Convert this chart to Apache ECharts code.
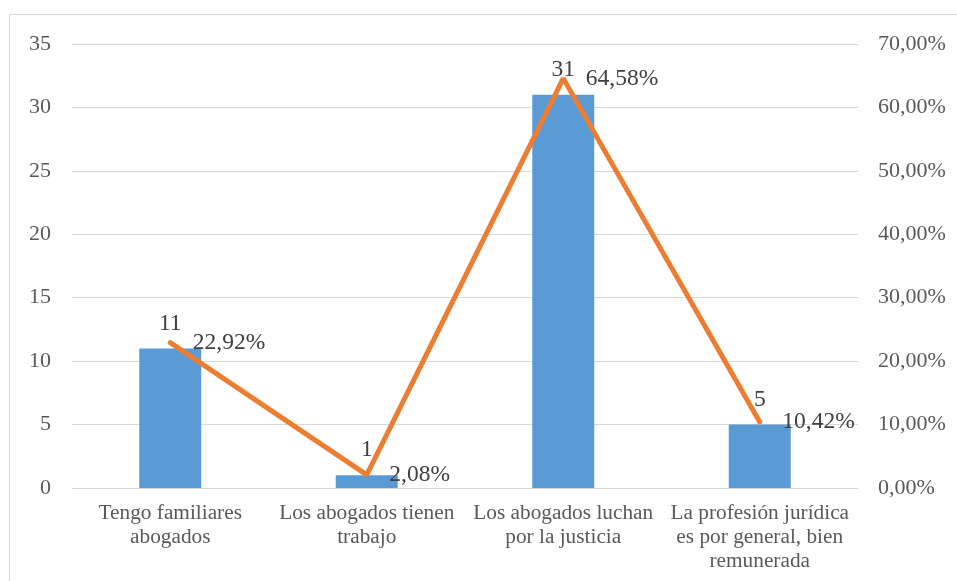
<!DOCTYPE html>
<html>
<head>
<meta charset="utf-8">
<script src="https://cdn.jsdelivr.net/npm/echarts@6/dist/echarts.min.js"></script>
<style>
html,body{margin:0;padding:0;background:#fff;}
#chart{width:957px;height:581px;}
</style>
</head>
<body>
<div id="chart"></div>
<script>
// 类别 / 人数 / 百分比
const categories=[
  'Tengo familiares\nabogados',
  'Los abogados tienen\ntrabajo',
  'Los abogados luchan\npor la justicia',
  'La profesión jurídica\nes por general, bien\nremunerada'
];
const counts=[11,1,31,5];
const percents=[22.92,2.08,64.58,10.42];

const FONT='"Liberation Serif","Times New Roman",serif';
const pctFmt=v=>Number(v).toFixed(2).replace('.',',')+'%';

const CHART=echarts.init(document.getElementById('chart'));
CHART.setOption({
  animation:false,
  textStyle:{fontFamily:FONT},
  grid:{left:72,right:99,top:44,bottom:93},
  graphic:[{type:'rect',silent:true,z:-10,
    shape:{x:9.5,y:14.5,width:1200,height:1200},
    style:{fill:'none',stroke:'#d9d9d9',lineWidth:1}}],
  xAxis:{type:'category',data:categories,
    axisTick:{show:false},
    axisLine:{lineStyle:{color:'#d9d9d9',width:1}},
    axisLabel:{interval:0,margin:13,color:'#595959',fontSize:21.3,lineHeight:24,fontFamily:FONT}},
  yAxis:[
    {type:'value',min:0,max:35,interval:5,
     axisLine:{show:false},axisTick:{show:false},
     splitLine:{lineStyle:{color:'#d9d9d9',width:1}},
     axisLabel:{margin:21,color:'#595959',fontSize:22,fontFamily:FONT}},
    {type:'value',min:0,max:70,interval:10,
     axisLine:{show:false},axisTick:{show:false},splitLine:{show:false},
     axisLabel:{margin:20,color:'#595959',fontSize:22,fontFamily:FONT,formatter:pctFmt}}
  ],
  series:[
    {name:'n',type:'bar',data:counts,barWidth:62,
     itemStyle:{color:'#5b9bd5'},
     label:{show:true,position:'top',distance:13,color:'#404040',fontSize:23.5,fontFamily:FONT}},
    {name:'%',type:'line',yAxisIndex:1,data:percents,z:5,
     symbol:'circle',symbolSize:1,
     lineStyle:{color:'#ed7d31',width:5,cap:'round'},itemStyle:{color:'#ed7d31'},
     label:{show:true,position:'right',distance:22,color:'#404040',fontSize:23.5,fontFamily:FONT,
       formatter:p=>pctFmt(p.value)}}
  ]
});
</script>
</body>
</html>
